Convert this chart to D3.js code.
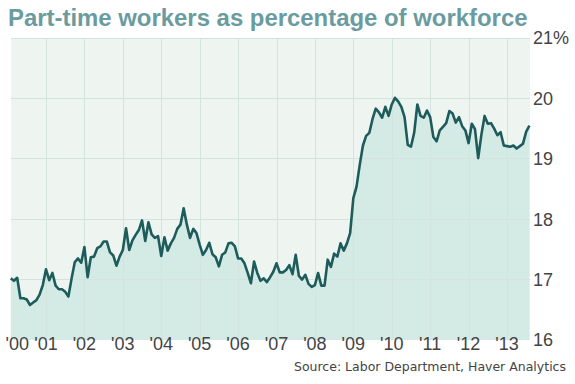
<!DOCTYPE html>
<html>
<head>
<meta charset="utf-8">
<script src="https://cdn.jsdelivr.net/npm/d3@7"></script>
<style>
  body { margin: 0; background: #fff; }
  .title { font-family: "Liberation Sans Narrow", "Liberation Sans", sans-serif; font-weight: bold; fill: #6a9c9f; }
  .ticklbl { font-family: "Liberation Sans Narrow", "Liberation Sans", sans-serif; font-size: 18px; fill: #444; }
  .source { font-family: "DejaVu Sans", sans-serif; font-size: 12.5px; fill: #444; }
</style>
</head>
<body>
<script>
// monthly share of part-time workers (%), Feb 2000 .. Aug 2013
var startYear = 2000, startMonth = 1; // 0 = Jan
var pctValues = [
  17.02, 16.98, 17.03, 16.69, 16.69, 16.67, 16.58, 16.62, 16.66, 16.75, 16.91, 17.17,
  16.99, 17.11, 16.90, 16.84, 16.84, 16.80, 16.72, 17.02, 17.29, 17.35, 17.28, 17.54,
  17.04, 17.37, 17.38, 17.52, 17.55, 17.63, 17.63, 17.45, 17.40, 17.23, 17.38, 17.49,
  17.85, 17.49, 17.65, 17.74, 17.82, 17.98, 17.64, 17.95, 17.75, 17.69, 17.72, 17.39,
  17.70, 17.48, 17.60, 17.69, 17.84, 17.91, 18.18, 17.91, 17.69, 17.84, 17.77, 17.58,
  17.41, 17.49, 17.61, 17.42, 17.37, 17.22, 17.41, 17.45, 17.60, 17.61, 17.55, 17.35,
  17.35, 17.27, 17.11, 16.94, 17.30, 17.11, 16.98, 17.02, 16.96, 17.04, 17.13, 17.27,
  17.12, 17.12, 17.16, 17.24, 17.09, 17.41, 17.06, 17.00, 17.08, 16.93, 16.88, 16.91,
  17.11, 16.90, 16.90, 17.33, 17.21, 17.43, 17.38, 17.60, 17.48, 17.60, 17.77, 18.35,
  18.54, 18.90, 19.22, 19.38, 19.43, 19.66, 19.83, 19.77, 19.68, 19.86, 19.71, 19.90,
  20.01, 19.95, 19.86, 19.69, 19.23, 19.20, 19.43, 19.90, 19.71, 19.68, 19.80, 19.69,
  19.36, 19.29, 19.47, 19.53, 19.59, 19.79, 19.75, 19.60, 19.69, 19.54, 19.47, 19.26,
  19.58, 19.49, 19.01, 19.40, 19.71, 19.58, 19.59, 19.50, 19.39, 19.44, 19.22, 19.21,
  19.20, 19.22, 19.17, 19.21, 19.25, 19.45, 19.55
];
var yearTicks = [2000, 2001, 2002, 2003, 2004, 2005, 2006, 2007, 2008, 2009, 2010, 2011, 2012, 2013];
var pctTicks = [16, 17, 18, 19, 20, 21];

var W = 575, H = 384;
var plot = {left: 11, right: 530, top: 38, bottom: 340};

var svg = d3.select("body").append("svg")
    .attr("width", W)
    .attr("height", H);

// scales (x in decimal years)
var x = d3.scaleLinear().domain([2001, 2013]).range([46, 507]);
var y = d3.scaleLinear().domain([16, 21]).range([plot.bottom, plot.top]);

var data = pctValues.map(function(v, i) {
  return {t: startYear + (startMonth + i) / 12, v: v};
});

// plot background
svg.append("rect")
    .attr("x", plot.left)
    .attr("y", plot.top)
    .attr("width", plot.right - plot.left)
    .attr("height", plot.bottom - plot.top)
    .attr("fill", "#eef5f1");

// area under the line
svg.append("path")
    .datum(data)
    .attr("fill", "#d4eae5")
    .attr("d", d3.area()
        .x(function(d) { return x(d.t); })
        .y0(y(16))
        .y1(function(d) { return y(d.v); }));

// grid lines
svg.selectAll("line.hgrid")
    .data(pctTicks.slice(1))
    .enter().append("line")
    .attr("class", "hgrid")
    .attr("x1", plot.left).attr("x2", plot.right)
    .attr("y1", function(d) { return y(d); })
    .attr("y2", function(d) { return y(d); })
    .attr("stroke", "#d3e3de")
    .attr("stroke-width", 1)
    .attr("shape-rendering", "crispEdges");

svg.selectAll("line.vgrid")
    .data(yearTicks.slice(1))
    .enter().append("line")
    .attr("class", "vgrid")
    .attr("x1", function(d) { return Math.round(x(d)) + 0.5; })
    .attr("x2", function(d) { return Math.round(x(d)) + 0.5; })
    .attr("y1", plot.top).attr("y2", plot.bottom)
    .attr("stroke", "#d3e3de")
    .attr("stroke-width", 1);

// the line
svg.append("path")
    .datum(data)
    .attr("fill", "none")
    .attr("stroke", "#1e5c5c")
    .attr("stroke-width", 2.6)
    .attr("stroke-linejoin", "round")
    .attr("d", d3.line()
        .x(function(d) { return x(d.t); })
        .y(function(d) { return y(d.v); }));

// y labels on the right
svg.selectAll("text.ylbl")
    .data(pctTicks)
    .enter().append("text")
    .attr("class", "ticklbl ylbl")
    .attr("x", plot.right + 3)
    .attr("y", function(d) { return y(d); })
    .attr("dy", "0.36em")
    .text(function(d) { return d === 21 ? d + "%" : d; });

// x labels
svg.selectAll("text.xlbl")
    .data(yearTicks)
    .enter().append("text")
    .attr("class", "ticklbl xlbl")
    .attr("x", function(d) { return d === 2000 ? x(d) - 2 : x(d); })
    .attr("y", 350)
    .attr("text-anchor", function(d) { return d === 2000 ? "start" : "middle"; })
    .text(function(d) { return "'" + String(d).slice(2); });

// title: size it so it ends just left of the "21%" label
var title = svg.append("text")
    .attr("class", "title")
    .attr("x", 8)
    .attr("y", 26)
    .attr("font-size", 26)
    .text("Part-time workers as percentage of workforce");
var tw = title.node().getComputedTextLength();
title.attr("font-size", 26 * 520 / tw);

// source
svg.append("text")
    .attr("class", "source")
    .attr("x", 566)
    .attr("y", 371)
    .attr("text-anchor", "end")
    .text("Source: Labor Department, Haver Analytics");
</script>
</body>
</html>
